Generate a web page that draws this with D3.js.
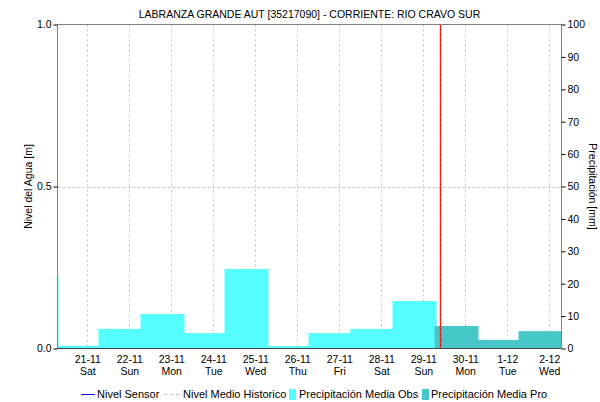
<!DOCTYPE html>
<html>
<head>
<meta charset="utf-8">
<script src="https://cdn.jsdelivr.net/npm/d3@7"></script>
<style>
  html, body { margin: 0; padding: 0; background: #fff; }
  svg text { font-family: Arial, "Liberation Sans", sans-serif; font-size: 10.5px; fill: #000; }
  svg .legend text { font-size: 11px; }
</style>
</head>
<body>
<svg id="chart" width="600" height="402"></svg>
<script>
const title = "LABRANZA GRANDE AUT [35217090] - CORRIENTE: RIO CRAVO SUR";
const domainTimes = ["2020-11-20 07:00", "2020-12-02 07:00"];
const nowTime = "2020-11-29 09:20";
const obsDays = ["2020-11-19","2020-11-20","2020-11-21","2020-11-22","2020-11-23","2020-11-24","2020-11-25","2020-11-26","2020-11-27","2020-11-28"];
const obsValues = [22.2, 0.7, 5.9, 10.5, 4.6, 24.4, 0.6, 4.6, 5.9, 14.5];
const proDays = ["2020-11-29","2020-11-30","2020-12-01"];
const proValues = [6.8, 2.5, 5.2];
const tickDays = ["2020-11-21","2020-11-22","2020-11-23","2020-11-24","2020-11-25","2020-11-26","2020-11-27","2020-11-28","2020-11-29","2020-11-30","2020-12-01","2020-12-02"];
const levelTicks = [0, 0.5, 1.0];
const precipTicks = [0, 10, 20, 30, 40, 50, 60, 70, 80, 90, 100];
const legendItems = ["Nivel Sensor", "Nivel Medio Historico", "Precipitación Media Obs", "Precipitación Media Pro"];

const parseT = d3.timeParse("%Y-%m-%d %H:%M");
const parseD = d3.timeParse("%Y-%m-%d");
const dayStart = d => d3.timeHour.offset(parseD(d), 7);
const dayEnd = d => d3.timeHour.offset(parseD(d), 31);

const L = 57.5, R = 561.5, T = 24.5, B = 348.5;
const svg = d3.select("#chart");

const x = d3.scaleTime().domain(domainTimes.map(parseT)).range([L, R]);
const yL = d3.scaleLinear().domain([0, 1]).range([B, T]);
const yR = d3.scaleLinear().domain([0, 100]).range([B, T]);

svg.append("defs").append("clipPath").attr("id", "clip")
  .append("rect").attr("x", L).attr("y", T).attr("width", R - L).attr("height", B - T);

// gridlines
const grid = svg.append("g");
grid.selectAll("line.v").data(tickDays).join("line")
  .attr("x1", d => Math.round(x(parseD(d))) + 0.5).attr("x2", d => Math.round(x(parseD(d))) + 0.5)
  .attr("y1", T).attr("y2", B)
  .attr("stroke", "#c4c4c4").attr("stroke-dasharray", "2,3");
grid.append("line")
  .attr("x1", L).attr("x2", R).attr("y1", Math.round(yL(0.5)) + 0.5).attr("y2", Math.round(yL(0.5)) + 0.5)
  .attr("stroke", "#c4c4c4").attr("stroke-dasharray", "3,2");

// bars
const bars = svg.append("g").attr("clip-path", "url(#clip)");
const obsData = obsDays.map((d, i) => ({ d, v: obsValues[i] }));
const proData = proDays.map((d, i) => ({ d, v: proValues[i] }));
bars.selectAll("rect.obs").data(obsData).join("rect")
  .attr("x", d => x(dayStart(d.d)) - 1)
  .attr("width", d => x(dayEnd(d.d)) - x(dayStart(d.d)) + 2)
  .attr("y", d => yR(d.v) - 0.5)
  .attr("height", d => B - yR(d.v))
  .attr("fill", "#56ffff");
bars.selectAll("rect.pro").data(proData).join("rect")
  .attr("x", d => x(dayStart(d.d)) - 1)
  .attr("width", d => x(dayEnd(d.d)) - x(dayStart(d.d)) + 2)
  .attr("y", d => yR(d.v) - 0.5)
  .attr("height", d => B - yR(d.v))
  .attr("fill", "#47c7c7");

// now line
const nx = Math.round(x(parseT(nowTime))) + 0.5;
svg.append("line").attr("x1", nx).attr("x2", nx).attr("y1", T).attr("y2", B)
  .attr("stroke", "#ff2020").attr("stroke-width", 1.5);
svg.append("line").attr("x1", nx).attr("x2", nx).attr("y1", T).attr("y2", B)
  .attr("stroke", "#a01010").attr("stroke-width", 1).attr("stroke-dasharray", "1,4");

// frame
svg.append("line").attr("x1", L).attr("x2", R).attr("y1", T).attr("y2", T).attr("stroke", "#808080");
svg.append("line").attr("x1", L).attr("x2", L).attr("y1", T).attr("y2", B).attr("stroke", "#808080");
svg.append("line").attr("x1", R).attr("x2", R).attr("y1", T).attr("y2", B).attr("stroke", "#808080");
svg.append("line").attr("x1", L).attr("x2", R).attr("y1", B).attr("y2", B).attr("stroke", "#909090");
svg.append("line").attr("x1", L).attr("x2", R).attr("y1", B).attr("y2", B)
  .attr("stroke", "#000").attr("stroke-dasharray", "1,1");

// left axis
const axL = d3.axisLeft(yL).tickValues(levelTicks).tickFormat(d3.format(".1f")).tickSize(4).tickPadding(2);
const gL = svg.append("g").attr("transform", `translate(${L},0)`).call(axL);
gL.select(".domain").remove();
gL.attr("font-size", null).attr("font-family", null);
gL.selectAll(".tick line").attr("stroke", "#000");

// right axis
const axR = d3.axisRight(yR).tickValues(precipTicks).tickFormat(d3.format("d")).tickSize(4).tickPadding(2);
const gR = svg.append("g").attr("transform", `translate(${R},0)`).call(axR);
gR.select(".domain").remove();
gR.attr("font-size", null).attr("font-family", null);
gR.selectAll(".tick line").attr("stroke", "#000");

// x axis labels
const fmtDay = d3.timeFormat("%-d-%m");
const fmtWd = d3.timeFormat("%a");
const axX = d3.axisBottom(x).tickValues(tickDays.map(parseD)).tickSize(0).tickFormat("");
const gX = svg.append("g").attr("transform", `translate(0,${B})`).call(axX);
gX.select(".domain").remove();
gX.attr("font-size", null).attr("font-family", null);
gX.selectAll(".tick").each(function(d) {
  const t = d3.select(this);
  t.append("text").attr("y", 14).attr("text-anchor", "middle").text(fmtDay(d));
  t.append("text").attr("y", 26).attr("text-anchor", "middle").text(fmtWd(d));
});

// titles
svg.append("text").attr("x", (L + R) / 2).attr("y", 18).attr("text-anchor", "middle").text(title);
svg.append("text").attr("transform", `translate(32,${(T + B) / 2}) rotate(-90)`)
  .attr("text-anchor", "middle").text("Nivel del Agua [m]");
svg.append("text").attr("transform", `translate(589,${(T + B) / 2}) rotate(90)`)
  .attr("text-anchor", "middle").text("Precipitación [mm]");

// legend
const lg = svg.append("g").attr("class", "legend").attr("transform", "translate(0,394)");
lg.append("line").attr("x1", 81).attr("x2", 95).attr("y1", 0.5).attr("y2", 0.5).attr("stroke", "#0000ff");
lg.append("text").attr("x", 97).attr("y", 4).text(legendItems[0]);
lg.append("line").attr("x1", 164).attr("x2", 179).attr("y1", 0.5).attr("y2", 0.5)
  .attr("stroke", "#c0c0c0").attr("stroke-dasharray", "3,3");
lg.append("text").attr("x", 183).attr("y", 4).text(legendItems[1]);
lg.append("rect").attr("x", 289).attr("y", -5).attr("width", 7).attr("height", 11).attr("fill", "#56ffff");
lg.append("text").attr("x", 299).attr("y", 4).text(legendItems[2]);
lg.append("rect").attr("x", 422).attr("y", -5).attr("width", 7).attr("height", 11).attr("fill", "#47c7c7");
lg.append("text").attr("x", 431).attr("y", 4).text(legendItems[3]);
</script>
</body>
</html>
